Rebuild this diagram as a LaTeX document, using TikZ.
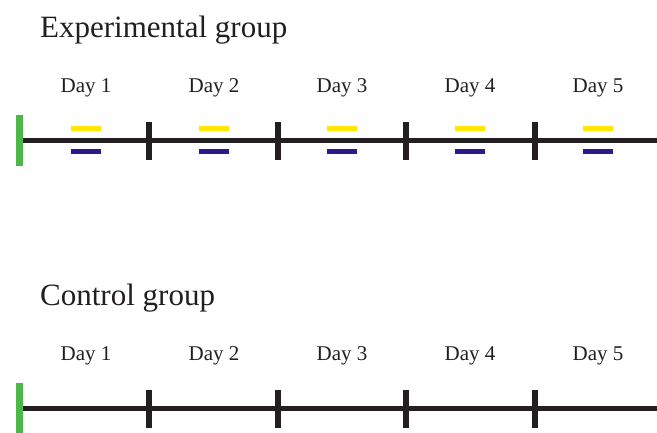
\documentclass[tikz,border=0pt]{standalone}
\usepackage{fontspec}
\setmainfont{Liberation Serif}
\definecolor{ink}{HTML}{231F20}
\definecolor{startgreen}{HTML}{4DB848}
\definecolor{dashyellow}{HTML}{FFE800}
\definecolor{dashblue}{HTML}{2E1A8F}
\begin{document}
\begin{tikzpicture}[x=1pt,y=-1pt,
  grouptitle/.style={font=\fontsize{31}{36}\selectfont, text=ink, anchor=base west, inner sep=0pt},
  daylabel/.style={font=\fontsize{21}{25}\selectfont, text=ink, anchor=base, inner sep=0pt},
  startbar/.style={fill=startgreen, minimum width=7pt, minimum height=51pt, inner sep=0pt, outer sep=0pt},
  tickbar/.style={fill=ink, minimum width=6pt, minimum height=38pt, inner sep=0pt, outer sep=0pt},
  yellowdash/.style={fill=dashyellow, minimum width=30pt, minimum height=5pt, inner sep=0pt, outer sep=0pt},
  bluedash/.style={fill=dashblue, minimum width=30pt, minimum height=5pt, inner sep=0pt, outer sep=0pt},
  axisline/.style={draw=ink, line width=4.5pt}]
\useasboundingbox (0,0) rectangle (657,432);
\fill[white] (0,0) rectangle (657,432);

% Experimental group
\node[grouptitle] (etitle) at (40,37) {Experimental group};
\node[startbar] (estart) at (19.5,140.5) {};
\coordinate (eend) at (657,140.5);
\draw[axisline] (estart.east) -- (eend);
\foreach \i/\x in {1/148.5,2/277.5,3/406,4/534.5}
  \node[tickbar] (etick\i) at (\x,141) {};
\foreach \i in {1,...,5}{
  \pgfmathsetmacro{\cx}{86+128*(\i-1)}
  \node[daylabel] (eday\i) at (\cx,92) {Day \i};
  \node[yellowdash] (eyel\i) at (\cx,128.5) {};
  \node[bluedash] (eblu\i) at (\cx,151.5) {};
}

% Control group
\node[grouptitle] (ctitle) at (40,305) {Control group};
\node[startbar] (cstart) at (19.5,408.5) {};
\coordinate (cend) at (657,408.5);
\draw[axisline] (cstart.east) -- (cend);
\foreach \i/\x in {1/148.5,2/277.5,3/406,4/534.5}
  \node[tickbar] (ctick\i) at (\x,409) {};
\foreach \i in {1,...,5}{
  \pgfmathsetmacro{\cx}{86+128*(\i-1)}
  \node[daylabel] (cday\i) at (\cx,360.5) {Day \i};
}
\end{tikzpicture}
\end{document}
